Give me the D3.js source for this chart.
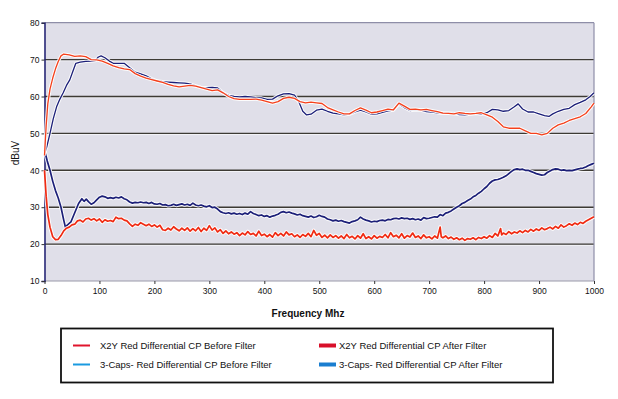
<!DOCTYPE html>
<html><head><meta charset="utf-8">
<script src="https://cdn.jsdelivr.net/npm/d3@7"></script>
<style>body{margin:0;background:#fff}svg{display:block}</style>
</head><body>
<svg id="c" width="618" height="399"></svg>
<script>
const yTicks = [10,20,30,40,50,60,70,80];
const xTicks = [0,100,200,300,400,500,600,700,800,900,1000];
const seriesNames = ["X2Y Red Differential CP Before Filter","X2Y Red Differential CP After Filter","3-Caps- Red Differential CP Before Filter","3-Caps- Red Differential CP After Filter"];

// X2Y before filter (upper red)
const x2yBeforeF = [0,3,6,10,15,20,25,30,35,45,55,65,75,85,95,105,115,125,135,145,155,165,175,185,195,205,215,225,235,245,255,265,275,285,295,305,315,325,335,345,355,365,375,385,395,405,415,425,435,445,455,465,475,485,495,505,515,525,535,545,555,565,575,585,595,605,615,625,635,645,655,665,675,685,695,705,715,725,735,745,755,765,775,785,795,805,815,825,835,845,855,865,875,885,895,905,915,925,935,945,955,965,975,985,995,1000];
const x2yBeforeV = [44,52,58,62,65,67.5,69.5,71,71.5,71.3,70.9,71,70.8,70,69.9,69.6,69,68.3,67.8,67.5,67.3,66.2,65.5,65,64.6,64.2,63.8,63.3,62.9,62.6,62.8,63,62.8,62.4,62,61.6,61.8,61,60,59.4,59.2,59.2,59.2,59.3,59,58.6,58.2,58.6,59.5,59.8,59.5,58.6,58.3,58.5,58.3,58.1,57,56.4,55.8,55.3,55.3,56.2,56.9,56.3,55.6,55.8,56.2,56.6,56.4,58.2,57.4,56.5,56.6,56.4,56.5,56.2,55.9,55.5,55.4,55.3,55.6,55.4,55.3,55.4,55.6,55,54.4,53.2,51.8,51.4,51.4,51.4,50.7,50,50,49.6,50,51.4,52.3,52.8,53.5,54,54.5,55.4,57.2,58.2];

// 3-Caps before filter (upper navy)
const capsBeforeF = [0,4,10,16,22,28,34,40,46,52,57,65,75,85,92,98,103,110,118,125,135,145,155,165,175,185,195,205,215,225,235,245,255,265,275,285,295,305,315,325,335,345,355,365,375,385,395,405,415,425,435,445,455,463,470,477,485,495,505,515,525,535,545,555,565,575,585,595,605,615,625,635,645,655,665,675,685,695,705,715,725,735,745,755,765,775,785,795,805,815,825,835,845,855,862,870,880,890,900,910,918,925,935,945,955,965,975,985,993,1000];
const capsBeforeV = [44.5,46.3,50,54,57.2,59.3,61,63,64.5,67,69,69.3,69.5,69.6,69.7,70.7,71,70.5,69.6,69,69,69,67.8,66.6,66.1,65.6,64.8,64.2,64,63.9,63.8,63.7,63.6,63.4,62.9,62.5,62.4,62.5,62.3,61,60.3,60,59.9,60,59.9,59.7,59.6,59.2,59.3,60.2,60.7,60.8,60.4,58.5,56,55,55.2,56.3,56.6,56,55.5,55.3,55,55.2,55.8,56.3,55.8,55.2,55.3,55.7,56.1,56.3,58,57,56.2,56.4,56.3,55.9,55.8,55.6,55.5,55.5,55.4,55.1,55,55.2,55.4,55.2,55.6,56.5,56.4,56,56.2,57.2,58,56.6,55.8,55.8,55.3,54.8,54.6,55.3,56,56.5,56.8,57.8,58.4,59.1,60,61];

// X2Y after filter (lower red)
const x2yAfterF = [0,3,6,10,15,20,25,30,35,40,45,50,55,60,65,70,75,80,85,90,95,100,105,110,115,120,125,130,135,140,145,150,155,160,165,170,175,180,185,190,195,200,205,210,215,220,225,230,235,240,245,250,255,260,265,270,275,280,285,290,295,300,305,310,315,320,325,330,335,340,345,350,355,360,365,370,375,380,385,390,395,400,405,410,415,420,425,430,435,440,445,450,455,460,465,470,475,480,485,490,495,500,505,510,515,520,525,530,535,540,545,550,555,560,565,570,575,580,585,590,595,600,605,610,615,620,625,630,635,640,645,650,655,660,665,670,675,680,685,690,695,700,705,710,715,720,722,725,730,735,740,745,750,755,760,765,770,775,780,785,790,795,800,805,810,815,820,825,830,832,835,840,845,850,855,860,865,870,875,880,885,890,895,900,905,910,915,920,925,930,935,940,945,950,955,960,965,970,975,980,985,990,995,1000];
const x2yAfterV = [40,33,28,24.6,22,21.2,21.3,22.3,23.6,24.3,24.6,25.2,25.4,26.3,26.5,26,26.8,27,26.5,26.9,26.3,26.8,25.9,26.6,26.2,26.4,26.1,27.3,26.9,27,26.5,26.3,25.5,24.8,25.4,25.1,25.8,25.4,25,25.4,24.8,25.2,24.6,25.1,23.9,23.7,24.3,23.8,24.7,24.1,23.6,24.3,23.7,24.4,23.5,24.2,23.6,24.5,23.4,24.3,23.7,25,23.8,24.4,23.3,23.9,22.9,23.6,22.8,23.3,22.7,23.1,22.3,23,22.5,23.4,22.6,22.9,22.2,23.5,22.3,22.7,22,22.6,21.9,23.1,22.3,22.9,22.2,23.3,22.5,22.8,22,22.5,21.8,22.6,22.1,22.9,22,23.7,22.4,22.9,21.8,22.4,21.7,22.5,21.8,22.3,21.6,22.2,21.5,22.6,21.7,22.1,21.4,22.3,21.6,22.8,21.5,22,21.4,22.3,21.6,22.1,21.8,22.6,21.7,23.1,22,22.4,21.7,22.8,21.6,22.3,21.9,23,21.8,22.2,21.5,22.5,21.7,22,21.4,22.2,21.6,24.6,22,21.7,22.2,21.5,21.9,21.3,21.7,21.2,21.6,21,21.5,21.3,21.7,21.2,21.8,21.5,22,21.6,22.3,21.8,22.9,22.2,24.2,22.5,23,22.6,23.4,22.8,23.3,23,23.6,23.1,23.7,23.3,24,23.5,24.1,23.7,24.4,23.9,24.2,24.6,24.1,24.8,24.3,25.2,24.6,25,25.5,25.1,25.7,25.3,25.9,25.6,26.2,26.6,27,27.4];

// 3-Caps after filter (lower navy)
const capsAfterF = [0,5,10,15,20,25,30,35,38,42,48,55,62,68,72,76,80,85,90,95,100,105,110,115,120,125,130,135,140,145,150,155,160,165,170,175,180,185,190,195,200,205,210,215,220,225,230,235,240,245,250,255,260,265,270,275,280,285,290,295,300,305,310,315,320,325,330,335,340,345,350,355,360,365,370,375,380,385,390,395,400,405,410,415,420,425,430,435,440,445,450,455,460,465,470,475,480,485,490,495,500,505,510,515,520,525,530,535,540,545,550,555,560,565,570,575,580,585,590,595,600,605,610,615,620,625,630,635,640,645,650,655,660,665,670,675,680,685,690,695,700,705,710,715,720,725,730,735,740,745,750,755,760,765,770,775,780,785,790,795,800,805,810,815,820,825,830,835,840,845,850,855,860,865,870,875,880,885,890,895,900,905,910,915,920,925,930,935,940,945,950,955,960,965,970,975,980,985,990,995,1000];
const capsAfterV = [45.5,42.5,40,37,34.5,32.5,30,26.5,24.6,25.2,26,28.5,31,32.3,31.6,32.2,31.5,30.8,31.2,32,32.7,33,32.8,32.4,32.6,32.4,32.7,32.5,32.8,32.3,32,31.4,31.1,31.3,31.2,31.4,31.2,31.3,31,31.3,30.9,30.8,31,30.6,30.7,30.4,30.5,30.8,30.5,30.7,30.9,30.6,30.8,30.5,31.1,30.6,30.4,30.6,30.3,30.1,30.4,29.9,30,29.5,28.8,28.5,28.3,28.5,28.2,28.4,28.1,28.3,28,28.4,28.1,28.8,28.3,28,27.7,27.9,27.5,27.7,27.3,27.6,27.8,28.1,28.6,28.8,28.5,28.7,28.4,28.2,27.9,28.1,27.7,27.5,27.3,27.6,27.2,27.4,27.8,27.5,27.3,26.8,26.6,26.3,26.5,26.2,26.4,26.1,25.9,25.7,26.1,26.3,26.6,27.3,26.8,26.5,26.3,26,26.2,26.1,26.4,26.5,26.3,26.7,26.6,26.9,27,26.8,27.1,26.9,27,26.7,26.9,26.6,26.8,26.5,27.2,26.9,27,27.2,27.4,27.3,28,27.7,28.4,28.6,29,29.5,30,30.4,31,31.3,31.8,32.2,32.8,33.2,33.8,34.3,35,35.6,36.5,37.1,37.4,37.5,37.8,38.1,38.5,39.1,39.7,40.2,40.4,40.2,40.3,40,40,39.7,39.4,39.1,38.9,38.7,38.8,39.4,39.8,40.2,40.4,40.3,40,40.1,39.9,40,39.9,40.1,40.3,40.5,40.6,40.9,41.3,41.6,41.9];

const svg = d3.select("#c");
const font = "'Liberation Sans', Arial, sans-serif";
const x = d3.scaleLinear().domain([0,1000]).range([44.5,594]);
const y = d3.scaleLinear().domain([10,80]).range([281,22.7]);

// plot background
svg.append("rect").attr("x",x(0)).attr("y",y(80)).attr("width",x(1000)-x(0)).attr("height",y(10)-y(80))
  .attr("fill","#e0dfe9");

// gridlines
const grid = svg.append("g");
yTicks.filter(v=>v>10 && v<80).forEach(v=>{
  grid.append("line").attr("x1",x(0)).attr("x2",x(1000)).attr("y1",y(v)+1.2).attr("y2",y(v)+1.2)
    .attr("stroke","#f4f4f8").attr("stroke-width",1);
  grid.append("line").attr("x1",x(0)).attr("x2",x(1000)).attr("y1",y(v)).attr("y2",y(v))
    .attr("stroke","#3d3a34").attr("stroke-width",1.4);
});
// top, right, bottom borders
svg.append("line").attr("x1",x(0)).attr("x2",x(1000)).attr("y1",y(80)).attr("y2",y(80)).attr("stroke","#8e8ea8").attr("stroke-width",1.2);
svg.append("line").attr("x1",x(1000)).attr("x2",x(1000)).attr("y1",y(80)).attr("y2",y(10)).attr("stroke","#8e8ea8").attr("stroke-width",1.2);
svg.append("line").attr("x1",x(0)).attr("x2",x(1000)).attr("y1",y(10)).attr("y2",y(10)).attr("stroke","#9a9aaa").attr("stroke-width",1.2);

// axes
const yAxis = svg.append("g").attr("transform",`translate(${x(0)},0)`)
  .call(d3.axisLeft(y).tickValues(yTicks).tickSize(3).tickPadding(2).tickFormat(d3.format("d")));
yAxis.select(".domain").attr("stroke","#1e1e70").attr("stroke-width",1.5);
yAxis.selectAll(".tick line").attr("stroke","#333");
yAxis.selectAll("text").attr("font-family",font).attr("font-size",8.5).attr("fill","#111");

const xAxis = svg.append("g").attr("transform",`translate(0,${y(10)})`)
  .call(d3.axisBottom(x).tickValues(xTicks).tickSize(3).tickPadding(4).tickFormat(d3.format("d")));
xAxis.select(".domain").remove();
xAxis.selectAll(".tick line").attr("stroke","#333");
xAxis.selectAll("text").attr("font-family",font).attr("font-size",8.5).attr("fill","#111");

// lines
function drawLine(F,V,color,w){
  const data = F.map((f,i)=>[f,V[i]]);
  const gen = d3.line().x(d=>x(d[0])).y(d=>y(d[1]));
  svg.append("path").attr("d",gen(data)).attr("fill","none").attr("stroke","#ffffff").attr("stroke-width",w+2).attr("stroke-linejoin","round").attr("opacity",0.9);
  svg.append("path").attr("d",gen(data)).attr("fill","none").attr("stroke",color).attr("stroke-width",w).attr("stroke-linejoin","round");
}
drawLine(capsAfterF,capsAfterV,"#1c1f78",1.7);
drawLine(x2yAfterF,x2yAfterV,"#f02a12",1.7);
drawLine(capsBeforeF,capsBeforeV,"#1c1f78",1.3);
drawLine(x2yBeforeF,x2yBeforeV,"#f5401c",1.3);

// axis titles
svg.append("text").attr("transform","translate(19,153) rotate(-90)").attr("text-anchor","middle")
  .attr("font-family",font).attr("font-size",10).attr("fill","#111").text("dBuV");
svg.append("text").attr("x",308).attr("y",317).attr("text-anchor","middle")
  .attr("font-family",font).attr("font-size",10).attr("font-weight","bold").attr("fill","#111").text("Frequency Mhz");

// legend
svg.append("rect").attr("x",61).attr("y",328.5).attr("width",492).attr("height",54)
  .attr("fill","#fff").attr("stroke","#111").attr("stroke-width",1.8);
const legendItems = [
  {name:seriesNames[0], lx:73, ty:349, color:"#e0142c", w:2},
  {name:seriesNames[1], lx:319, ty:349, color:"#d8102a", w:4},
  {name:seriesNames[2], lx:73, ty:368, color:"#1a9ae0", w:2},
  {name:seriesNames[3], lx:319, ty:368, color:"#1a7ed0", w:4}
];
legendItems.forEach(d=>{
  svg.append("line").attr("x1",d.lx).attr("x2",d.lx+17).attr("y1",d.ty-3.5).attr("y2",d.ty-3.5)
    .attr("stroke",d.color).attr("stroke-width",d.w);
  svg.append("text").attr("x",d.lx+(d.w>2?20:27)).attr("y",d.ty).attr("font-family",font).attr("font-size",9.5)
    .attr("fill","#111").text(d.name);
});
</script>
</body></html>
